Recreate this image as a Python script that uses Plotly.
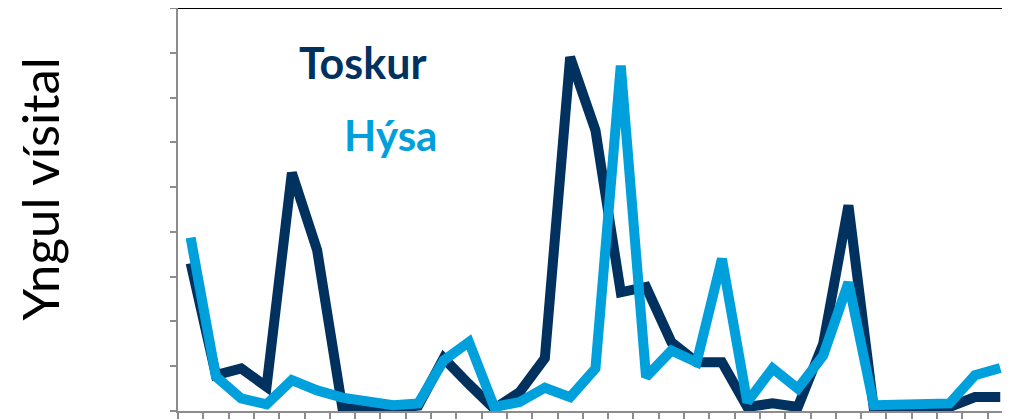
import plotly.graph_objects as go

periods = list(range(33))
toskur = [3.3, 0.8, 0.95, 0.54, 5.32, 3.59, 0.06, 0.06, 0.06, 0.12, 1.18, 0.6, 0.05,
          0.42, 1.18, 7.9, 6.27, 2.65, 2.77, 1.54, 1.09, 1.09, 0.09, 0.17, 0.09, 1.5,
          4.59, 0.06, 0.06, 0.06, 0.09, 0.31, 0.31]
hysa = [3.87, 0.77, 0.28, 0.15, 0.69, 0.46, 0.3, 0.22, 0.13, 0.17, 1.13, 1.54, 0.09,
        0.2, 0.52, 0.31, 0.95, 7.71, 0.76, 1.35, 1.09, 3.4, 0.2, 0.95, 0.5, 1.24,
        2.87, 0.13, 0.15, 0.18, 0.17, 0.8, 0.96]
tick_positions = [p + 0.5 for p in range(-1, 33)]
y_ticks = list(range(10))

DARK = "#00315F"
LIGHT = "#00A0DC"
FONT = "Lato"

fig = go.Figure()
fig.add_trace(go.Scatter(x=periods, y=toskur, mode="lines", name="Toskur",
                         line=dict(color=DARK, width=10)))
fig.add_trace(go.Scatter(x=periods, y=hysa, mode="lines", name="Hýsa",
                         line=dict(color=LIGHT, width=10)))

fig.update_layout(
    width=1002, height=411,
    margin=dict(l=170, r=0, t=0, b=8),
    plot_bgcolor="white", paper_bgcolor="white",
    showlegend=False,
    xaxis=dict(range=[-0.5, 32.385], tickvals=tick_positions, ticks="outside",
               ticklen=7, tickwidth=2, tickcolor="#8c8c8c", showticklabels=False,
               showgrid=False, zeroline=False, showline=True, linecolor="#8c8c8c",
               linewidth=2),
    yaxis=dict(range=[0, 9], tickvals=y_ticks, ticks="outside", ticklen=6,
               tickwidth=2, tickcolor="#8c8c8c", showticklabels=False,
               showgrid=False, zeroline=False, showline=True, linecolor="#8c8c8c",
               linewidth=2),
)

fig.add_shape(type="line", xref="paper", yref="paper", x0=0, x1=1, y0=1, y1=1,
              line=dict(color="black", width=2))

fig.add_annotation(text="<b>Toskur</b>", xref="paper", yref="paper", x=0.2224, y=0.865,
                   showarrow=False, xanchor="center", yanchor="middle",
                   font=dict(family=FONT, size=43, color=DARK))
fig.add_annotation(text="<b>Hýsa</b>", xref="paper", yref="paper", x=0.256, y=0.684,
                   showarrow=False, xanchor="center", yanchor="middle",
                   font=dict(family=FONT, size=42, color=LIGHT))
fig.add_annotation(text="Yngul vísital", xref="paper", yref="paper", x=-0.166, y=0.552,
                   textangle=-90, showarrow=False, xanchor="center", yanchor="middle",
                   font=dict(family=FONT, size=51, color="black"))

fig.write_html("out.html")
